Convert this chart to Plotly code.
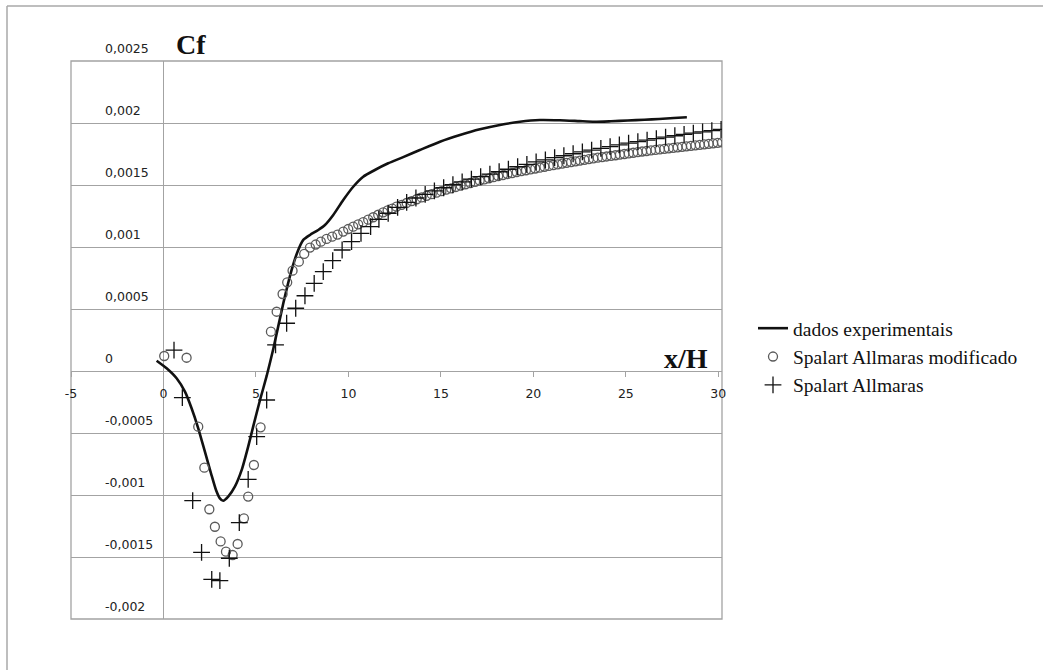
import plotly.graph_objects as go

# Experimental skin-friction data (x/H, Cf x 10^3)
exp_x = [-0.37, 0.17, 0.71, 1.16, 1.52, 1.88, 2.24, 2.57, 2.84, 3.05, 3.23, 3.5, 3.86,
         4.23, 4.58, 4.85, 5.22, 5.58, 5.94, 6.48, 6.93, 7.25, 7.56, 7.92, 8.37, 8.73,
         9.18, 9.72, 10.26, 10.8, 11.43, 12.15, 12.96, 13.86, 14.95, 16.03, 17.11,
         18.19, 19.27, 20.35, 21.43, 22.5, 23.3, 24.2, 25.1, 26.0, 26.8, 27.6, 28.3]
exp_cf = [0.083, 0.022, -0.059, -0.167, -0.301, -0.462, -0.651, -0.825, -0.96, -1.027,
          -1.046, -1.013, -0.933, -0.798, -0.61, -0.449, -0.234, -0.04, 0.18, 0.546,
          0.815, 0.962, 1.057, 1.097, 1.137, 1.177, 1.258, 1.379, 1.486, 1.567, 1.621,
          1.675, 1.725, 1.782, 1.849, 1.903, 1.949, 1.984, 2.01, 2.024, 2.022, 2.015,
          2.01, 2.014, 2.02, 2.026, 2.032, 2.04, 2.046]

# Modified Spalart-Allmaras results
mod_x = [0.04, 1.25, 1.88, 2.21, 2.48, 2.78, 3.09, 3.38, 3.74, 4.01, 4.35, 4.58, 4.89,
         5.25, 5.81, 6.12, 6.44, 6.69, 6.98, 7.32, 7.61, 7.92, 8.23, 8.51, 8.82, 9.12,
         9.41, 9.72, 9.99, 10.26, 10.53, 10.8, 11.07, 11.34, 11.61, 11.88, 12.12, 12.37,
         12.6, 12.88, 13.15, 13.42, 13.69, 13.96, 14.23, 14.5, 14.77, 15.03, 15.29,
         15.55, 15.81, 16.07, 16.33, 16.59, 16.85, 17.1, 17.35, 17.6, 17.85, 18.1,
         18.35, 18.6, 18.85, 19.1, 19.35, 19.6, 19.85, 20.1, 20.35, 20.6, 20.84, 21.08,
         21.32, 21.56, 21.8, 22.04, 22.28, 22.52, 22.76, 23.0, 23.24, 23.48, 23.72,
         23.96, 24.2, 24.44, 24.68, 24.92, 25.16, 25.4, 25.64, 25.88, 26.12, 26.36,
         26.6, 26.84, 27.08, 27.32, 27.56, 27.8, 28.04, 28.28, 28.52, 28.76, 29.0,
         29.24, 29.48, 29.72, 29.96, 30.2]
mod_cf = [0.121, 0.107, -0.449, -0.78, -1.115, -1.256, -1.374, -1.457, -1.484, -1.395,
          -1.188, -1.013, -0.758, -0.454, 0.317, 0.478, 0.621, 0.715, 0.809, 0.882,
          0.944, 0.995, 1.02, 1.043, 1.065, 1.083, 1.10, 1.124, 1.145, 1.164, 1.183,
          1.20, 1.22, 1.24, 1.26, 1.28, 1.295, 1.31, 1.325, 1.34, 1.355, 1.37, 1.385,
          1.40, 1.413, 1.426, 1.438, 1.45, 1.462, 1.473, 1.484, 1.495, 1.506, 1.516,
          1.526, 1.536, 1.545, 1.554, 1.563, 1.572, 1.58, 1.588, 1.596, 1.604, 1.612,
          1.619, 1.626, 1.633, 1.64, 1.647, 1.654, 1.66, 1.667, 1.673, 1.679, 1.685,
          1.691, 1.697, 1.703, 1.709, 1.714, 1.72, 1.725, 1.73, 1.735, 1.74, 1.745,
          1.75, 1.755, 1.76, 1.765, 1.77, 1.774, 1.779, 1.783, 1.787, 1.792, 1.796,
          1.80, 1.804, 1.808, 1.812, 1.816, 1.82, 1.824, 1.828, 1.832, 1.836, 1.84, 1.844]

# Standard Spalart-Allmaras results
sa_x = [0.57, 1.02, 1.58, 2.06, 2.61, 3.05, 3.56, 4.10, 4.58, 5.04, 5.58, 6.06, 6.66,
        7.15, 7.65, 8.15, 8.64, 9.15, 9.66, 10.17, 10.68, 11.2, 11.65, 12.15, 12.66,
        13.15, 13.65, 14.15, 14.65, 15.15, 15.65, 16.15, 16.65, 17.15, 17.65, 18.15,
        18.65, 19.15, 19.65, 20.15, 20.65, 21.15, 21.65, 22.15, 22.65, 23.15, 23.65,
        24.15, 24.65, 25.15, 25.65, 26.15, 26.65, 27.15, 27.65, 28.15, 28.65, 29.15,
        29.65, 30.15]
sa_cf = [0.169, -0.215, -1.046, -1.462, -1.68, -1.691, -1.51, -1.223, -0.874, -0.53,
         -0.234, 0.21, 0.385, 0.506, 0.607, 0.707, 0.801, 0.89, 0.976, 1.043, 1.11,
         1.164, 1.223, 1.272, 1.32, 1.36, 1.395, 1.425, 1.452, 1.478, 1.502, 1.525,
         1.547, 1.568, 1.588, 1.607, 1.627, 1.647, 1.666, 1.686, 1.703, 1.72, 1.736,
         1.752, 1.767, 1.782, 1.796, 1.81, 1.824, 1.837, 1.85, 1.862, 1.874, 1.886,
         1.897, 1.908, 1.919, 1.929, 1.939, 1.948]

x_ticks = [-5, 0, 5, 10, 15, 20, 25, 30]
y_ticks = [0.0025, 0.002, 0.0015, 0.001, 0.0005, 0, -0.0005, -0.001, -0.0015, -0.002]

series_names = ["dados experimentais", "Spalart Allmaras modificado", "Spalart Allmaras"]

for xs, ys in ((exp_x, exp_cf), (mod_x, mod_cf), (sa_x, sa_cf)):
    assert len(xs) == len(ys)


def scaled(values):
    # lists are stored as Cf x 10^3
    return [v * 1e-3 for v in values]


GRID = "#a3a3a3"
W, H = 1043, 670
L, R, T, B = 71, 321, 61, 51
plot_w = W - L - R
plot_h = H - T - B

fig = go.Figure()
fig.add_trace(go.Scatter(
    x=exp_x, y=scaled(exp_cf), mode="lines", name=series_names[0],
    line=dict(color="#111111", width=2.6, shape="spline", smoothing=0.6),
))
fig.add_trace(go.Scatter(
    x=mod_x, y=scaled(mod_cf), mode="markers", name=series_names[1],
    marker=dict(symbol="circle-open", size=9, color="#5a5a5a", line=dict(width=1.3)),
))
fig.add_trace(go.Scatter(
    x=sa_x, y=scaled(sa_cf), mode="markers", name=series_names[2],
    marker=dict(symbol="cross-thin-open", size=12, color="#111111", line=dict(width=1.3)),
))

y0_paper = 0.0025 / 0.0045

fig.update_xaxes(
    range=[-5, 30.2], showgrid=False,
    zeroline=True, zerolinecolor=GRID, zerolinewidth=1.3,
    anchor="free", position=1 - y0_paper,
    showline=False, ticks="outside", ticklen=5, tickcolor=GRID, tickwidth=1.3,
    tickvals=x_ticks, ticktext=[str(v) for v in x_ticks],
    tickfont=dict(family="DejaVu Sans", size=12.5, color="#222222"),
    ticklabelstandoff=6,
)
fig.update_yaxes(
    range=[-0.002, 0.0025], showgrid=True, gridcolor=GRID, gridwidth=1.3,
    tick0=0, dtick=0.0005, zeroline=False, showticklabels=False, ticks="",
)

# y tick labels, written with a decimal comma, set above their gridlines
annotations = []
for v in y_ticks:
    annotations.append(dict(
        x=(103 - L) / plot_w, xref="paper", y=v, yref="y",
        text=f"{v:g}".replace(".", ","), showarrow=False,
        xanchor="left", yanchor="middle", yshift=13,
        font=dict(family="DejaVu Sans", size=12.5, color="#222222"),
    ))

annotations.append(dict(
    x=(191 - L) / plot_w, y=(H - B - 44) / plot_h, xref="paper", yref="paper",
    text="<b>Cf</b>", showarrow=False, xanchor="center", yanchor="middle",
    font=dict(family="Liberation Serif", size=28, color="#111111"),
))
annotations.append(dict(
    x=(686 - L) / plot_w, y=(H - B - 358) / plot_h, xref="paper", yref="paper",
    text="<b>x/H</b>", showarrow=False, xanchor="center", yanchor="middle",
    font=dict(family="Liberation Serif", size=28, color="#111111"),
))

shapes = [
    # plot-area frame
    dict(type="rect", xref="paper", yref="paper", x0=0, x1=1, y0=0, y1=1,
         line=dict(color=GRID, width=1.3), layer="below"),
    # outer chart frame (top and left edges)
    dict(type="line", xref="paper", yref="paper",
         x0=(7 - L) / plot_w, x1=(W + 5 - L) / plot_w,
         y0=(H - B - 6) / plot_h, y1=(H - B - 6) / plot_h,
         line=dict(color="#a8a8a8", width=1.5)),
    dict(type="line", xref="paper", yref="paper",
         x0=(7 - L) / plot_w, x1=(7 - L) / plot_w,
         y0=(H - B - 6) / plot_h, y1=-B / plot_h - 0.05,
         line=dict(color="#a8a8a8", width=1.5)),
]

fig.update_layout(
    width=W, height=H, autosize=False,
    margin=dict(l=L, r=R, t=T, b=B, pad=0),
    paper_bgcolor="white", plot_bgcolor="white",
    separators=",.",
    showlegend=True,
    legend=dict(
        x=(753 - L) / plot_w, xanchor="left",
        y=(H - B - 309) / plot_h, yanchor="top",
        font=dict(family="Liberation Serif", size=19.5, color="#111111"),
        bgcolor="rgba(0,0,0,0)", borderwidth=0, tracegroupgap=0,
    ),
    annotations=annotations,
    shapes=shapes,
)

fig.write_html("out.html")
